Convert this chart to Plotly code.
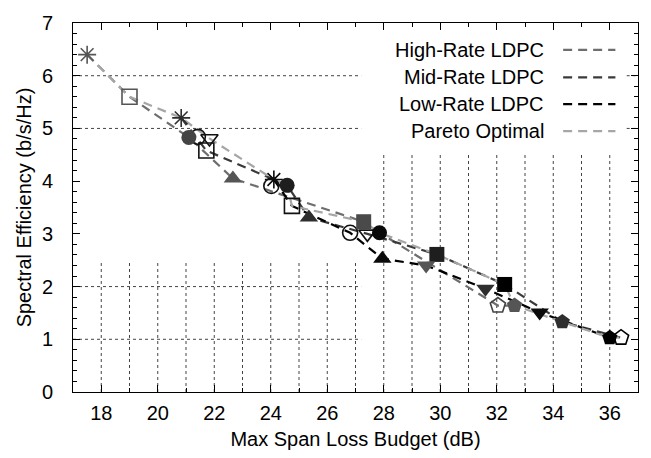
import plotly.graph_objects as go

# ---- data -------------------------------------------------------------
# dashed curves, one per code-rate family plus the Pareto envelope
high_x = [17.5, 19.0, 21.1, 22.66, 27.29, 27.85, 32.04, 32.63]
high_y = [6.4, 5.6, 4.83, 4.05, 3.23, 3.02, 1.64, 1.64]

mid_x = [20.83, 21.72, 24.58, 25.35, 27.42, 29.88, 32.28, 34.32, 36.4]
mid_y = [5.2, 4.58, 3.92, 3.31, 3.0, 2.61, 2.04, 1.33, 1.03]

low_x = [24.11, 24.75, 26.81, 27.95, 29.5, 31.6, 33.52, 36.0]
low_y = [4.03, 3.53, 3.02, 2.53, 2.4, 1.96, 1.51, 1.03]

pareto_x = [17.5, 19.0, 20.83, 21.83, 24.11, 24.58, 24.75, 27.29, 27.85,
            29.88, 32.28, 32.63, 34.32, 36.0, 36.4]
pareto_y = [6.4, 5.6, 5.2, 4.81, 4.03, 3.92, 3.53, 3.23, 3.02,
            2.61, 2.04, 1.64, 1.33, 1.03, 1.03]

series_names = ["High-Rate LDPC", "Mid-Rate LDPC", "Low-Rate LDPC", "Pareto Optimal"]
series_colors = ["#6e6e6e", "#3a3a3a", "#000000", "#a6a6a6"]

# operating points, one marker shape per modulation format
fmt_asterisk_x = [17.5, 20.83, 24.11]
fmt_asterisk_y = [6.4, 5.2, 4.03]
fmt_osquare_x = [19.0, 21.72, 24.75]
fmt_osquare_y = [5.6, 4.58, 3.53]
fmt_circle_x = [21.1, 24.58, 27.85]
fmt_circle_y = [4.83, 3.92, 3.02]
fmt_ocircle_x = [21.42, 24.02, 26.81]
fmt_ocircle_y = [4.84, 3.91, 3.02]
fmt_otridown_x = [21.83, 27.42]
fmt_otridown_y = [4.81, 3.0]
fmt_triup_x = [22.66, 25.35, 27.95]
fmt_triup_y = [4.05, 3.31, 2.53]
fmt_square_x = [27.29, 29.88, 32.28]
fmt_square_y = [3.23, 2.61, 2.04]
fmt_tridown_x = [29.5, 31.6, 33.52]
fmt_tridown_y = [2.4, 1.96, 1.51]
fmt_opent_x = [32.04, 36.4]
fmt_opent_y = [1.64, 1.03]
fmt_pent_x = [32.63, 34.32, 36.0]
fmt_pent_y = [1.64, 1.33, 1.03]

x_ticks = [18, 20, 22, 24, 26, 28, 30, 32, 34, 36]
y_ticks = [0, 1, 2, 3, 4, 5, 6, 7]

FONT = "Liberation Sans, Arial, sans-serif"
FSIZE = 20
rate_shades = ["#555555", "#2e2e2e", "#0a0a0a"]

fig = go.Figure()

# curves (drawn first so the markers sit on top)
for xs, ys, name, col in [(high_x, high_y, series_names[0], series_colors[0]),
                          (mid_x, mid_y, series_names[1], series_colors[1]),
                          (low_x, low_y, series_names[2], series_colors[2]),
                          (pareto_x, pareto_y, series_names[3], series_colors[3])]:
    fig.add_trace(go.Scatter(x=xs, y=ys, mode="lines", name=name,
                             line=dict(color=col, width=2.2, dash="9px,6px"),
                             showlegend=False, hoverinfo="skip"))


def add_markers(xs, ys, symbol, size, colors, filled):
    if filled:
        mk = dict(symbol=symbol, size=size, color=colors,
                  line=dict(width=0))
    else:
        mk = dict(symbol=symbol, size=size, color=colors,
                  line=dict(width=1.6, color=colors))
    fig.add_trace(go.Scatter(x=xs, y=ys, mode="markers", marker=mk,
                             showlegend=False))


add_markers(fmt_asterisk_x, fmt_asterisk_y, "asterisk-open", 15, rate_shades, False)
add_markers(fmt_osquare_x, fmt_osquare_y, "square-open", 15, ["#555555", "#111111", "#111111"], False)
add_markers(fmt_ocircle_x, fmt_ocircle_y, "circle-open", 15, ["#111111"] * 3, False)
add_markers(fmt_otridown_x, fmt_otridown_y, "triangle-down-open", 15, ["#111111"] * 2, False)
add_markers(fmt_circle_x, fmt_circle_y, "circle", 15, ["#444444", "#1e1e1e", "#0a0a0a"], True)
add_markers(fmt_triup_x, fmt_triup_y, "triangle-up", 16, rate_shades, True)
add_markers(fmt_square_x, fmt_square_y, "square", 15, ["#4a4a4a", "#1e1e1e", "#000000"], True)
add_markers(fmt_tridown_x, fmt_tridown_y, "triangle-down", 16, rate_shades, True)
add_markers(fmt_opent_x, fmt_opent_y, "pentagon-open", 16, ["#444444", "#000000"], False)
add_markers(fmt_pent_x, fmt_pent_y, "pentagon", 16, ["#555555", "#2e2e2e", "#000000"], True)

# dotted grid, interrupted where the key area sits
shapes = []
grid_style = dict(color="#444444", width=1, dash="dot")
for gx in range(18, 28):
    shapes.append(dict(type="line", xref="x", yref="y", x0=gx, x1=gx, y0=0, y1=2.5,
                       line=grid_style, layer="below"))
for gx in range(28, 37):
    shapes.append(dict(type="line", xref="x", yref="y", x0=gx, x1=gx, y0=0, y1=4.55,
                       line=grid_style, layer="below"))
for gy in (1, 2, 5, 6):
    shapes.append(dict(type="line", xref="x", yref="y", x0=17, x1=27.2, y0=gy, y1=gy,
                       line=grid_style, layer="below"))
for gy in (5, 6):
    shapes.append(dict(type="line", xref="x", yref="y", x0=36.6, x1=37, y0=gy, y1=gy,
                       line=grid_style, layer="below"))

# key: right-aligned labels with a dashed sample to their right
annotations = []
key_rows = [6.49, 5.97, 5.46, 4.95]
for name, col, ky in zip(series_names, series_colors, key_rows):
    annotations.append(dict(x=33.75, y=ky, xref="x", yref="y", text=name,
                            showarrow=False, xanchor="right", yanchor="middle",
                            font=dict(family=FONT, size=FSIZE, color="#000000")))
    shapes.append(dict(type="line", xref="x", yref="y", x0=34.35, x1=36.2, y0=ky, y1=ky,
                       line=dict(color=col, width=2.2, dash="9px,6px")))

fig.update_layout(
    width=651, height=458,
    margin=dict(l=73, r=12, t=17, b=65),
    paper_bgcolor="white", plot_bgcolor="white",
    font=dict(family=FONT, size=FSIZE, color="#000000"),
    shapes=shapes, annotations=annotations,
    showlegend=False,
)
fig.update_xaxes(
    range=[17, 37], tickvals=x_ticks, ticktext=[str(v) for v in x_ticks],
    ticks="inside", ticklen=7, tickcolor="#000000", tickwidth=1,
    minor=dict(dtick=1, tick0=17, ticks="inside", ticklen=4, tickcolor="#000000", showgrid=False),
    showline=True, linecolor="#000000", linewidth=1, mirror="ticks",
    showgrid=False, zeroline=False, ticklabelstandoff=3,
    title=dict(text="Max Span Loss Budget (dB)", font=dict(family=FONT, size=FSIZE), standoff=8),
    tickfont=dict(family=FONT, size=FSIZE),
)
fig.update_yaxes(
    range=[0, 7], tickvals=y_ticks, ticktext=[str(v) for v in y_ticks],
    ticks="inside", ticklen=7, tickcolor="#000000", tickwidth=1,
    minor=dict(dtick=0.2, tick0=0, ticks="inside", ticklen=4, tickcolor="#000000", showgrid=False),
    showline=True, linecolor="#000000", linewidth=1, mirror="ticks",
    showgrid=False, zeroline=False, ticklabelstandoff=15,
    title=dict(text="Spectral Efficiency (b/s/Hz)", font=dict(family=FONT, size=FSIZE), standoff=4),
    tickfont=dict(family=FONT, size=FSIZE),
)

fig.write_html("out.html")
